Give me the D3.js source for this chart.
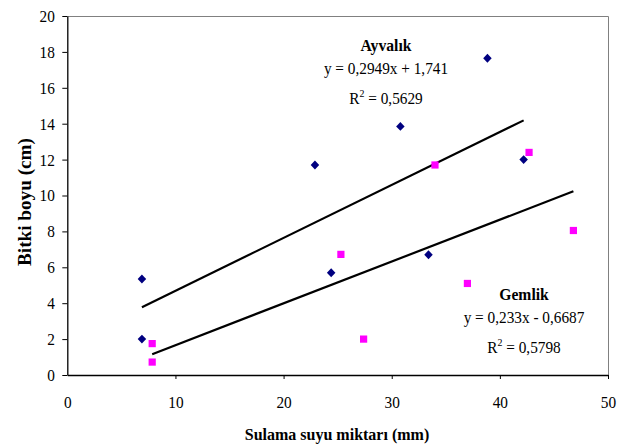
<!DOCTYPE html>
<html>
<head>
<meta charset="utf-8">
<script src="https://cdn.jsdelivr.net/npm/d3@7"></script>
<style>
  html, body { margin: 0; padding: 0; background: #fff; }
  svg { display: block; }
  text { font-family: "Liberation Serif", "Times New Roman", serif; }
</style>
</head>
<body>
<svg id="chart" width="619" height="445"></svg>
<script>
// ---- data ----
const ayvalikX = [6.9, 6.9, 22.9, 24.4, 30.8, 33.4, 38.85, 42.2];
const ayvalikY = [5.35, 2.0, 11.7, 5.7, 13.85, 6.7, 17.65, 12.0];
const gemlikX = [7.85, 7.85, 25.3, 27.4, 34.0, 37.0, 42.7, 46.8];
const gemlikY = [1.75, 0.72, 6.72, 2.0, 11.7, 5.1, 12.4, 8.05];
const ayvalikFit = [0.2949, 1.741];   // slope, intercept
const gemlikFit = [0.233, -0.6687];
const xTicks = [0, 10, 20, 30, 40, 50];
const yTicks = [0, 2, 4, 6, 8, 10, 12, 14, 16, 18, 20];
const seriesNames = ["Ayvalık", "Gemlik"];
const equations = ["y = 0,2949x + 1,741", "y = 0,233x - 0,6687"];
const r2Values = ["0,5629", "0,5798"];
const xTitle = "Sulama suyu miktarı (mm)";
const yTitle = "Bitki boyu (cm)";

// ---- layout ----
const svg = d3.select("#chart");
const pL = 67.3, pR = 608, pT = 16, pB = 375;
const x = d3.scaleLinear().domain([0, 50]).range([pL, pR]);
const y = d3.scaleLinear().domain([0, 20]).range([pB, pT]);
const SX = 0.9; // horizontal squeeze of the serif labels

// border top & right (gray)
svg.append("path")
  .attr("d", `M${pL},${pT + 0.5}H${pR + 0.5}V${pB}`)
  .attr("fill", "none").attr("stroke", "#808080").attr("stroke-width", 1);

// y axis
const yAxis = svg.append("g")
  .attr("transform", `translate(${pL},0)`)
  .call(d3.axisLeft(y).tickValues(yTicks).tickSize(5).tickPadding(8).tickSizeOuter(0));
// x axis
const xAxis = svg.append("g")
  .attr("transform", `translate(0,${pB})`)
  .call(d3.axisBottom(x).tickValues(xTicks).tickSize(4).tickPadding(17.4).tickSizeOuter(0));

[yAxis, xAxis].forEach(g => {
  g.select(".domain").attr("stroke", "#000").attr("stroke-width", 1.3);
  g.selectAll(".tick line").attr("stroke", "#000").attr("stroke-width", 1);
  g.selectAll("text").attr("font-family", "Liberation Serif").attr("font-size", 17).attr("fill", "#000");
});
yAxis.selectAll("text").attr("x", -12.5 / SX).attr("transform", `scale(${SX},1)`);
xAxis.selectAll("text").attr("transform", `scale(${SX},1)`);
xAxis.selectAll(".tick").filter(d => d === 0).select("line").remove();

// trend lines
function trend(xs, fit) {
  const x0 = d3.min(xs), x1 = d3.max(xs);
  return [[x0, fit[0] * x0 + fit[1]], [x1, fit[0] * x1 + fit[1]]];
}
const line = d3.line().x(d => x(d[0])).y(d => y(d[1]));
[[ayvalikX, ayvalikFit], [gemlikX, gemlikFit]].forEach(([xs, fit]) => {
  svg.append("path").attr("d", line(trend(xs, fit)))
    .attr("fill", "none").attr("stroke", "#000").attr("stroke-width", 2.2);
});

// markers
const diamond = {
  draw(context, size) {
    const r = Math.sqrt(size / 2);
    context.moveTo(0, -r); context.lineTo(r * 0.95, 0);
    context.lineTo(0, r); context.lineTo(-r * 0.95, 0); context.closePath();
  }
};
svg.append("g").selectAll("path").data(d3.zip(ayvalikX, ayvalikY)).join("path")
  .attr("transform", d => `translate(${x(d[0])},${y(d[1])})`)
  .attr("d", d3.symbol().type(diamond).size(40))
  .attr("fill", "#000080");
svg.append("g").selectAll("path").data(d3.zip(gemlikX, gemlikY)).join("path")
  .attr("transform", d => `translate(${x(d[0])},${y(d[1])})`)
  .attr("d", d3.symbol().type(d3.symbolSquare).size(52))
  .attr("fill", "#FF00FF");

// annotations
const ann = [
  { cx: 386, nameY: 51, eqY: 74, rY: 104 },
  { cx: 524, nameY: 300, eqY: 323, rY: 353 }
];
ann.forEach((a, i) => {
  svg.append("text").attr("transform", `translate(${a.cx},${a.nameY}) scale(0.95,1)`)
    .attr("text-anchor", "middle")
    .attr("font-size", 16.5).attr("font-weight", "bold")
    .text(seriesNames[i]);
  svg.append("text").attr("transform", `translate(${a.cx},${a.eqY}) scale(${SX},1)`)
    .attr("text-anchor", "middle")
    .attr("font-size", 17)
    .text(equations[i]);
  const t = svg.append("text").attr("transform", `translate(${a.cx},${a.rY}) scale(${SX},1)`)
    .attr("font-size", 17).attr("text-anchor", "middle");
  t.append("tspan").text("R");
  t.append("tspan").attr("font-size", 11).attr("dy", -7).text("2");
  t.append("tspan").attr("dy", 7).text(" = " + r2Values[i]);
});

// axis titles
svg.append("text").attr("x", 337).attr("y", 440)
  .attr("text-anchor", "middle").attr("font-size", 16).attr("font-weight", "bold")
  .text(xTitle);
svg.append("text")
  .attr("transform", "translate(31,202) rotate(-90)")
  .attr("x", -64).attr("y", 0)
  .attr("font-size", 18).attr("font-weight", "bold")
  .attr("textLength", 128).attr("lengthAdjust", "spacingAndGlyphs")
  .text(yTitle);
</script>
</body>
</html>
